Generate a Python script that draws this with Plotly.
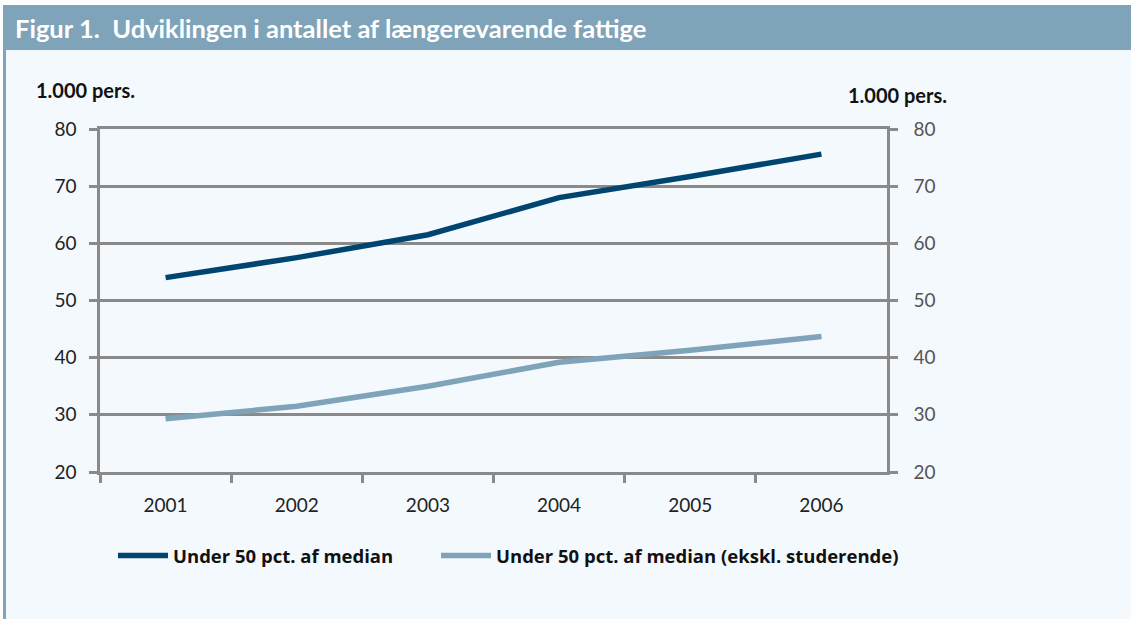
import plotly.graph_objects as go

years = ["2001", "2002", "2003", "2004", "2005", "2006"]
under50 = [54.0, 57.5, 61.5, 68.0, 71.7, 75.6]
under50_ex_stud = [29.3, 31.5, 35.0, 39.2, 41.3, 43.7]
series_names = ["Under 50 pct. af median", "Under 50 pct. af median (ekskl. studerende)"]
title_text = "Figur 1.  Udviklingen i antallet af længerevarende fattige"
unit_text = "1.000 pers."
y_ticks = [20, 30, 40, 50, 60, 70, 80]

W, H = 1131, 619
x0, x1 = 100, 887
ytop, ybot = 129, 472

DARK = "#004570"
LIGHT = "#7fa3b9"
GRID = "#8a8a8a"
BG = "#f4f9fd"
BAND = "#7fa3b8"

fig = go.Figure()
fig.add_trace(go.Scatter(x=years, y=under50, mode="lines", name=series_names[0],
                         line=dict(color=DARK, width=5.5), legend="legend"))
fig.add_trace(go.Scatter(x=years, y=under50_ex_stud, mode="lines", name=series_names[1],
                         line=dict(color=LIGHT, width=5.5), legend="legend2"))
# invisible trace to activate right axis
fig.add_trace(go.Scatter(x=years, y=under50, yaxis="y2", mode="lines", showlegend=False,
                         line=dict(color="rgba(0,0,0,0)"), hoverinfo="skip"))

legend_font = dict(family="Open Sans", size=18.5, color="#111111", weight="bold")
tick_font = dict(family="Lato", size=19, color="#222222")

fig.update_layout(
    width=W, height=H, autosize=False,
    margin=dict(l=0, r=0, t=0, b=0, pad=0),
    paper_bgcolor="white",
    plot_bgcolor=BG,
    showlegend=True,
    legend=dict(orientation="h", x=113 / W, y=1 - 556 / H, xanchor="left", yanchor="middle",
                bgcolor="rgba(0,0,0,0)", font=legend_font, itemwidth=50),
    legend2=dict(orientation="h", x=436 / W, y=1 - 556 / H, xanchor="left", yanchor="middle",
                 bgcolor="rgba(0,0,0,0)", font=legend_font, itemwidth=50),
    xaxis=dict(domain=[x0 / W, x1 / W], type="category", range=[-0.5, 5.5], showgrid=False,
               tickson="boundaries", ticks="outside", ticklen=8, tickwidth=2.5, tickcolor=GRID,
               showline=True, linecolor=GRID, linewidth=2.5, mirror=True,
               zeroline=False, ticklabelstandoff=14, automargin=False,
               tickfont=tick_font, fixedrange=True),
    yaxis=dict(domain=[1 - ybot / H, 1 - ytop / H], range=[20, 80], tickvals=y_ticks,
               showgrid=True, gridcolor=GRID, gridwidth=2.5,
               showline=True, linecolor=GRID, linewidth=2.5,
               ticks="outside", ticklen=8, tickwidth=2.5, tickcolor=GRID,
               zeroline=False, ticklabelstandoff=9, automargin=False,
               tickfont=tick_font),
    yaxis2=dict(overlaying="y", side="right", range=[20, 80], tickvals=y_ticks,
                showgrid=False, showline=True, linecolor=GRID, linewidth=2.5,
                ticks="outside", ticklen=8, tickwidth=2.5, tickcolor=GRID,
                zeroline=False, ticklabelstandoff=12, automargin=False,
                tickfont=dict(family="Lato", size=19, color="#555555")),
    shapes=[
        dict(type="rect", xref="paper", yref="paper", x0=5 / W, x1=1, y0=0, y1=1 - 50 / H,
             fillcolor=BG, line=dict(width=0), layer="below"),
        dict(type="rect", xref="paper", yref="paper", x0=3 / W, x1=1, y0=1 - 50 / H, y1=1 - 5 / H,
             fillcolor=BAND, line=dict(width=0), layer="below"),
        dict(type="rect", xref="paper", yref="paper", x0=3 / W, x1=6 / W, y0=0, y1=1 - 5 / H,
             fillcolor=BAND, line=dict(width=0), layer="below"),
    ],
    annotations=[
        dict(text="<b>" + title_text + "</b>", xref="paper", yref="paper",
             x=13 / W, y=1 - 28 / H, xanchor="left", yanchor="middle", showarrow=False,
             font=dict(family="Lato", size=25.5, color="white")),
        dict(text="<b>" + unit_text + "</b>", xref="paper", yref="paper",
             x=34 / W, y=1 - 90 / H, xanchor="left", yanchor="middle", showarrow=False,
             font=dict(family="Lato", size=20, color="#111111")),
        dict(text="<b>" + unit_text + "</b>", xref="paper", yref="paper",
             x=949 / W, y=1 - 95 / H, xanchor="right", yanchor="middle", showarrow=False,
             font=dict(family="Lato", size=20, color="#111111")),
    ],
)

fig.write_html("out.html", config={"displayModeBar": False},
               post_script="document.body.style.margin='0px';")
